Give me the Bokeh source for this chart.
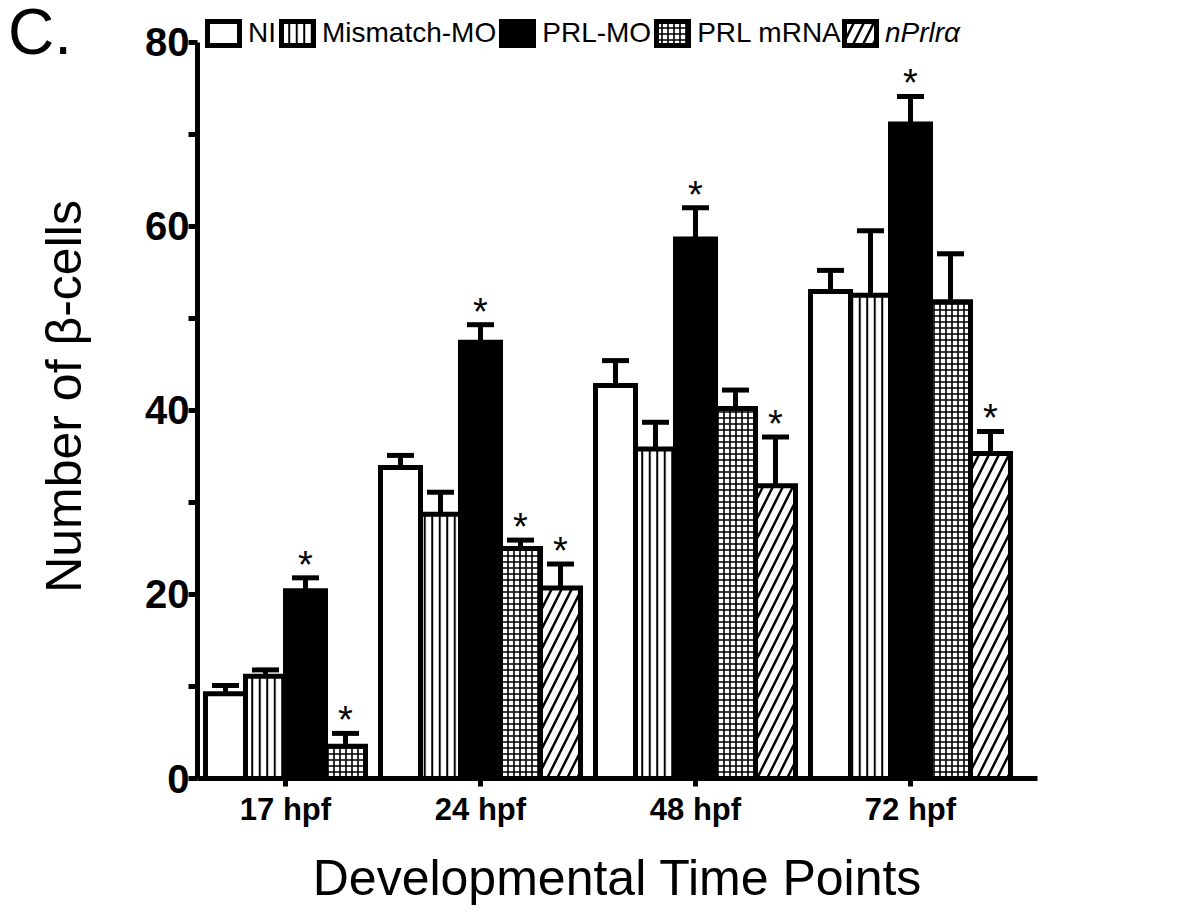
from bokeh.plotting import figure
from bokeh.layouts import column
from bokeh.models import (ColumnDataSource, Whisker, TeeHead, Legend, LegendItem, Div,
                          Range1d, FixedTicker)
from bokeh.core.properties import value
from bokeh.embed import file_html
from bokeh.resources import INLINE

# ---------------- data ----------------
panel_letter = "C."
timepoints = ["17 hpf", "24 hpf", "48 hpf", "72 hpf"]
series = ["NI", "Mismatch-MO", "PRL-MO", "PRL mRNA", "nPrlrα"]

ni = [9.2, 33.8, 42.7, 52.9]
ni_err = [0.9, 1.3, 2.7, 2.3]
mismatch = [11.1, 28.7, 35.8, 52.5]
mismatch_err = [0.7, 2.4, 2.9, 7.0]
prl_mo = [20.4, 47.4, 58.6, 71.1]
prl_mo_err = [1.4, 1.9, 3.4, 3.0]
prl_mrna = [3.5, 25.0, 40.2, 51.8]
prl_mrna_err = [1.4, 0.9, 2.0, 5.2]
nprlra = [None, 20.7, 31.8, 35.3]
nprlra_err = [None, 2.6, 5.3, 2.4]

sig_ni = [False, False, False, False]
sig_mismatch = [False, False, False, False]
sig_prl_mo = [True, True, True, True]
sig_prl_mrna = [True, True, False, False]
sig_nprlra = [False, True, True, True]

y_ticks = [0, 20, 40, 60, 80]
y_minor = [10, 30, 50, 70]

values = [ni, mismatch, prl_mo, prl_mrna, nprlra]
errors = [ni_err, mismatch_err, prl_mo_err, prl_mrna_err, nprlra_err]
sigs = [sig_ni, sig_mismatch, sig_prl_mo, sig_prl_mrna, sig_nprlra]

# ---------------- layout of grouped bars (units of one bar width) ----------------
LEFT_PAD = 0.2
GROUP_GAP = 0.375
bar_x = {s: [] for s in series}
group_centers = []
cursor = LEFT_PAD
for g in range(len(timepoints)):
    start = cursor
    for si, s in enumerate(series):
        if values[si][g] is None:
            bar_x[s].append(None)
            continue
        bar_x[s].append(cursor + 0.5)
        cursor += 1
    group_centers.append((start + cursor) / 2)
    cursor += GROUP_GAP
x_end = cursor - GROUP_GAP + 0.675

FONT = "Liberation Sans"

p = figure(width=1200, height=912, output_backend="svg", toolbar_location=None,
           x_range=Range1d(0, x_end), y_range=Range1d(0, 83.0),
           min_border_left=197, min_border_right=163, min_border_top=14, min_border_bottom=134)
p.outline_line_color = None
p.grid.grid_line_color = None
p.background_fill_color = "white"

styles = {
    "NI": dict(fill_color="white"),
    "Mismatch-MO": dict(fill_color="white", hatch_pattern="|", hatch_scale=7.5, hatch_weight=2, hatch_color="black"),
    "PRL-MO": dict(fill_color="black"),
    "PRL mRNA": dict(fill_color="white", hatch_pattern="+", hatch_scale=6, hatch_weight=1.6, hatch_color="black"),
    "nPrlrα": dict(fill_color="white", hatch_pattern="/", hatch_scale=20, hatch_weight=2.5, hatch_color="black"),
}

renderers = {}
for si, s in enumerate(series):
    xs, tops, ups, stars = [], [], [], []
    for g in range(len(timepoints)):
        if values[si][g] is None:
            continue
        xs.append(bar_x[s][g])
        tops.append(values[si][g])
        ups.append(values[si][g] + errors[si][g])
        stars.append("*" if sigs[si][g] else "")
    src = ColumnDataSource(dict(x=xs, top=tops, upper=ups, star=stars))
    r = p.vbar(x="x", top="top", bottom=0, width=1.0, source=src,
               line_color="black", line_width=5, line_join="miter", **styles[s])
    renderers[s] = r
    w = Whisker(source=src, base="x", lower="top", upper="upper", dimension="height",
                line_width=5, line_color="black", line_cap="butt",
                upper_head=TeeHead(size=27, line_width=5, line_color="black"), lower_head=None)
    p.add_layout(w)
    p.text(x="x", y="upper", text="star", source=src, text_align="center",
           text_baseline="bottom", y_offset=8, text_font=value(FONT),
           text_font_size="38px", text_color="black")

# ---------------- axes ----------------
yax = p.yaxis[0]
yax.ticker = FixedTicker(ticks=y_ticks, minor_ticks=y_minor)
yax.bounds = (0, 80)
yax.axis_line_width = 5
yax.axis_line_color = "black"
yax.major_tick_line_width = 5
yax.minor_tick_line_width = 5
yax.major_tick_in = 0
yax.major_tick_out = 9
yax.minor_tick_in = 0
yax.minor_tick_out = 9
yax.major_label_text_font = FONT
yax.major_label_text_font_style = "bold"
yax.major_label_text_font_size = "40px"
yax.major_label_text_color = "black"
yax.major_label_standoff = -1
yax.axis_label = "Number of β-cells"
yax.axis_label_text_font = FONT
yax.axis_label_text_font_style = "normal"
yax.axis_label_text_font_size = "50px"
yax.axis_label_text_color = "black"
yax.axis_label_standoff = 50

xax = p.xaxis[0]
xax.ticker = FixedTicker(ticks=group_centers, minor_ticks=[])
xax.major_label_overrides = {c: t for c, t in zip(group_centers, timepoints)}
xax.axis_line_width = 5
xax.axis_line_color = "black"
xax.major_tick_line_width = 5
xax.major_tick_in = 0
xax.major_tick_out = 8
xax.minor_tick_line_color = None
xax.major_label_text_font = FONT
xax.major_label_text_font_style = "bold"
xax.major_label_text_font_size = "31px"
xax.major_label_text_color = "black"
xax.major_label_standoff = 5
xax.axis_label = "Developmental Time Points"
xax.axis_label_text_font = FONT
xax.axis_label_text_font_style = "normal"
xax.axis_label_text_font_size = "50px"
xax.axis_label_text_color = "black"
xax.axis_label_standoff = 20

# ---------------- legends ----------------
legend_common = dict(orientation="horizontal", glyph_width=40, glyph_height=30,
                     label_text_font=FONT, label_text_font_size="28px", label_text_color="black",
                     label_standoff=5, spacing=1, padding=4, margin=0,
                     border_line_color=None, background_fill_alpha=0)
leg1 = Legend(items=[LegendItem(label=s, renderers=[renderers[s]]) for s in series[:4]],
              location=(6, 729), **legend_common)
leg2 = Legend(items=[LegendItem(label=series[4], renderers=[renderers[series[4]]])],
              location=(643, 729), label_text_font_style="italic", **legend_common)
p.add_layout(leg1)
p.add_layout(leg2)

letter = Div(text=panel_letter, width=90, height=76,
             styles={"position": "absolute", "left": "8px", "top": "0px", "z-index": "10",
                     "font-family": FONT, "font-size": "64px", "line-height": "1.0",
                     "color": "black", "margin": "0", "padding": "0"})

layout = column(letter, p)
open("out.html", "w").write(file_html(layout, INLINE))
